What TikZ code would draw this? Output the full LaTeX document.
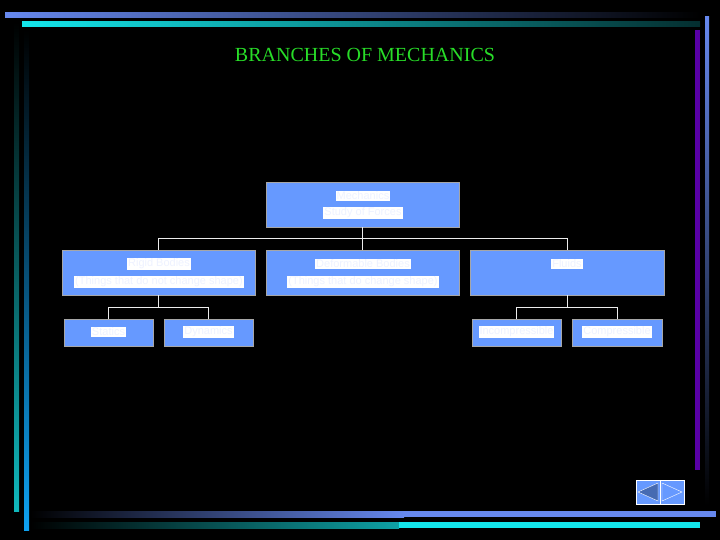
\documentclass[tikz,border=0pt]{standalone}
\usepackage{fontspec}
\setmainfont{Liberation Serif}
\newfontfamily\boxfont{Liberation Sans}
\definecolor{boxblue}{RGB}{102,153,255}
\definecolor{barblue}{RGB}{102,136,238}
\definecolor{barcyan}{RGB}{20,230,235}
\definecolor{titlegreen}{RGB}{40,220,40}
\definecolor{ghost}{RGB}{238,242,255}
\begin{document}
\begin{tikzpicture}[x=1pt,y=-1pt,
  box/.style={draw=gray!70,line width=0.8pt,fill=boxblue},
  lbl/.style={fill=white,text=ghost,font=\boxfont\fontsize{11}{12}\selectfont,inner sep=1pt},
  conn/.style={draw=white!85!gray,line width=1pt}]
\fill[black] (0,0) rectangle (720,540);
\useasboundingbox (0,0) rectangle (720,540);
% decorative bars
\shade[left color=barblue,right color=black] (5,13) rectangle (700,18);
\shade[left color=barcyan,right color=black!80!barcyan] (22,22) rectangle (700,27);
\shade[top color=black,bottom color=barcyan!80!black] (14,22) rectangle (19,511);
\shade[top color=black,bottom color=barcyan!70!blue] (24,30) rectangle (29,530);
\fill[violet!70!blue] (695,30) rectangle (700,470);
\shade[top color=barblue,bottom color=black] (705,17) rectangle (709,505);
\shade[left color=black,right color=barblue] (30,511) rectangle (404,517);
\fill[barblue] (404,511) rectangle (716,517);
\shade[left color=black,right color=barcyan!70!black] (30,522) rectangle (399,528);
\fill[barcyan] (399,522) rectangle (700,528);
% title
\node[text=titlegreen,font=\fontsize{20}{22}\selectfont] (title) at (365,55) {BRANCHES OF MECHANICS};
% boxes
\node[box,minimum width=193pt,minimum height=45pt] (mech) at (362.5,204.5) {};
\node[box,minimum width=193pt,minimum height=45pt] (rigid) at (158.5,272.5) {};
\node[box,minimum width=193pt,minimum height=45pt] (deform) at (362.5,272.5) {};
\node[box,minimum width=194pt,minimum height=45pt] (fluid) at (567,272.5) {};
\node[box,minimum width=89pt,minimum height=27pt] (stat) at (108.5,332.5) {};
\node[box,minimum width=89pt,minimum height=27pt] (dyn) at (208.5,332.5) {};
\node[box,minimum width=89pt,minimum height=27pt] (incomp) at (516.5,332.5) {};
\node[box,minimum width=90pt,minimum height=27pt] (comp) at (617,332.5) {};
% labels
\node[lbl] (t1) at (363,196) {Mechanics};
\node[lbl] (t2) at (363,213) {Study of Forces};
\node[lbl] (r1) at (159,264) {Rigid Bodies};
\node[lbl] (r2) at (159,282) {(Things that do not change shape)};
\node[lbl] (d1) at (363,264) {Deformable Bodies};
\node[lbl] (d2) at (363,282) {(Things that do change shape)};
\node[lbl] (f1) at (567,264) {Fluids};
\node[lbl] (s1) at (108.5,332) {Statics};
\node[lbl] (y1) at (208.5,332) {Dynamics};
\node[lbl] (i1) at (516.5,332) {Incompressible};
\node[lbl] (c1) at (617,332) {Compressible};
% connectors
\coordinate (j0) at (362.5,238);
\coordinate (jl) at (158.5,238);
\coordinate (jr) at (567,238);
\draw[conn] (mech.south) -- (j0) (jl) -- (jr);
\draw[conn] (jl) -- (rigid.north);
\draw[conn] (j0) -- (deform.north);
\draw[conn] (jr) -- (fluid.north);
\coordinate (k0) at (158.5,307);
\draw[conn] (rigid.south) -- (k0) (stat.north|-k0) -- (dyn.north|-k0);
\draw[conn] (stat.north|-k0) -- (stat.north) (dyn.north|-k0) -- (dyn.north);
\coordinate (m0) at (567,307);
\draw[conn] (fluid.south) -- (m0) (incomp.north|-m0) -- (comp.north|-m0);
\draw[conn] (incomp.north|-m0) -- (incomp.north) (comp.north|-m0) -- (comp.north);
% nav buttons
\node[draw=white,fill=boxblue,minimum width=24pt,minimum height=24pt,inner sep=0] (prev) at (648,492) {};
\node[draw=white,fill=boxblue,minimum width=24pt,minimum height=24pt,inner sep=0] (next) at (672,492) {};
\draw[white,fill=boxblue!70!black] (658,483) -- (638,492) -- (658,501) -- cycle;
\draw[white] (662,483) -- (682,492) -- (662,501) -- cycle;
\end{tikzpicture}
\end{document}
